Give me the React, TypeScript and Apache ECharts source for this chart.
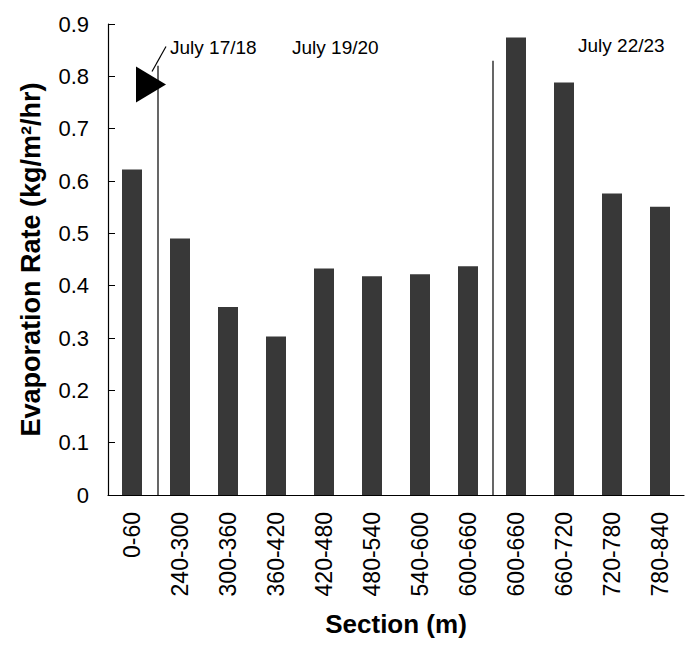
import React, { useEffect, useRef } from "react";
import * as echarts from "echarts";

const categories = ["0-60", "240-300", "300-360", "360-420", "420-480", "480-540", "540-600", "600-660", "600-660 ", "660-720", "720-780", "780-840"];
const values = [0.622, 0.49, 0.359, 0.303, 0.433, 0.418, 0.422, 0.437, 0.874, 0.788, 0.576, 0.551];
const yTicks = [0, 0.1, 0.2, 0.3, 0.4, 0.5, 0.6, 0.7, 0.8, 0.9];
const periodLabels = ["July 17/18", "July 19/20", "July 22/23"];

const FONT = "Liberation Sans, Arial, Helvetica, sans-serif";

export default function App() {
  const ref = useRef<HTMLDivElement>(null);
  useEffect(() => {
    if (!ref.current) return;
    const chart = echarts.init(ref.current, null, { renderer: "svg" });
    const option: any = {
      animation: false,
      backgroundColor: "#ffffff",
      grid: { left: 108, right: 5, top: 24, bottom: 161 },
      xAxis: {
        type: "category",
        data: categories,
        axisLine: { lineStyle: { color: "#000", width: 1.2 } },
        axisTick: { inside: true, length: 7, lineStyle: { color: "#000" } },
        axisLabel: {
          rotate: 90,
          margin: 17,
          color: "#000",
          fontSize: 23,
          fontFamily: FONT,
          interval: 0,
          formatter: (v: string) => v.trim(),
        },
        name: "Section (m)",
        nameLocation: "middle",
        nameGap: 116,
        nameTextStyle: { fontSize: 26, fontWeight: "bold", color: "#000", fontFamily: FONT },
      },
      yAxis: {
        type: "value",
        min: 0,
        max: 0.9,
        interval: 0.1,
        splitLine: { show: false },
        axisLine: { show: true, lineStyle: { color: "#000", width: 1.2 } },
        axisTick: { show: true, inside: true, length: 7, lineStyle: { color: "#000" } },
        axisLabel: {
          margin: 19,
          color: "#000",
          fontSize: 22,
          fontFamily: FONT,
          formatter: (v: number) => {
            const t = yTicks.find((y) => Math.abs(y - v) < 1e-6);
            return t === 0 ? "0" : (t ?? v).toFixed(1);
          },
        },
        name: "Evaporation Rate (kg/m²/hr)",
        nameLocation: "middle",
        nameGap: 64,
        nameTextStyle: { fontSize: 27, fontWeight: "bold", color: "#000", fontFamily: FONT },
      },
      series: [
        {
          type: "bar",
          data: values,
          barWidth: 20,
          itemStyle: { color: "#383838" },
        },
      ],
    };
    chart.setOption(option);

    const px = (idx: number, v: number) => chart.convertToPixel({ xAxisIndex: 0, yAxisIndex: 0 }, [idx, v]) as number[];
    const b1 = (px(0, 0)[0] + px(1, 0)[0]) / 2;
    const b2 = (px(7, 0)[0] + px(8, 0)[0]) / 2;
    const y0 = px(0, 0)[1];
    const top1 = px(0, 0.82)[1];
    const top2 = px(0, 0.83)[1];
    const tri = px(0, 0.79);
    const textStyle = { fill: "#000", fontSize: 19, fontFamily: FONT };
    chart.setOption({
      graphic: [
        { type: "line", shape: { x1: b1 + 2, y1: top1, x2: b1 + 2, y2: y0 }, style: { stroke: "#000", lineWidth: 1.2 } },
        { type: "line", shape: { x1: b2 + 1, y1: top2, x2: b2 + 1, y2: y0 }, style: { stroke: "#000", lineWidth: 1.2 } },
        {
          type: "polygon",
          shape: { points: [[tri[0] + 4, tri[1] - 15], [tri[0] + 4, tri[1] + 21], [tri[0] + 34, tri[1] + 3]] },
          style: { fill: "#000" },
        },
        { type: "line", shape: { x1: tri[0] + 20, y1: tri[1] - 10, x2: tri[0] + 34, y2: tri[1] - 35 }, style: { stroke: "#000", lineWidth: 1.2 } },
        { type: "text", x: 170, y: 47, style: { ...textStyle, text: periodLabels[0], verticalAlign: "middle" } },
        { type: "text", x: 292, y: 47, style: { ...textStyle, text: periodLabels[1], verticalAlign: "middle" } },
        { type: "text", x: 578, y: 45, style: { ...textStyle, text: periodLabels[2], verticalAlign: "middle" } },
      ],
    });
    return () => chart.dispose();
  }, []);
  return <div ref={ref} style={{ position: "fixed", left: 0, top: 0, width: 689, height: 656 }} />;
}
